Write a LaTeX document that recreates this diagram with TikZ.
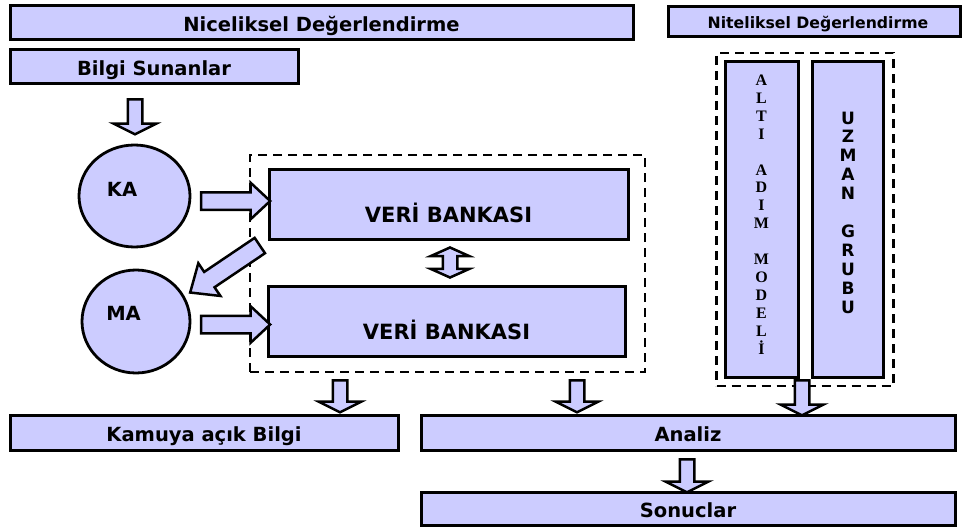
\documentclass[tikz,border=0pt]{standalone}
\usepackage{fontspec}
\setsansfont{DejaVu Sans}
\newfontfamily\colserif{Liberation Serif}
\usetikzlibrary{shapes.geometric}
\usetikzlibrary{shapes.arrows}
\definecolor{boxfill}{HTML}{CCCCFF}

\begin{document}
\begin{tikzpicture}[x = 1pt, y = -1pt, font=\sffamily\bfseries]
	\tikzstyle{boxStyle}=[shape = rectangle, draw, fill = boxfill, line width = 3pt, inner sep = 0pt]
	\tikzstyle{groupStyle}=[shape = rectangle, draw, line width = 2.7pt, dash pattern = on 9pt off 6pt, inner sep = 0pt]
	\tikzstyle{circStyle}=[shape = ellipse, draw, fill = boxfill, line width = 2.8pt, minimum width = 110pt, minimum height = 103pt, inner sep = 0pt]
	\tikzstyle{arrowStyle}=[shape = single arrow, draw, fill = boxfill, line width = 2.5pt, inner sep = 0pt, single arrow head indent = 0pt]
	\tikzstyle{downArrow}=[arrowStyle, rotate = -90, inner ysep = 6pt, single arrow head extend = 14pt, single arrow tip angle = 127]
	\tikzstyle{sideArrow}=[arrowStyle, inner ysep = 7.5pt, minimum height = 69pt, single arrow head extend = 9.5pt, single arrow tip angle = 86]
	\tikzstyle{bigFont}=[font = \sffamily\bfseries\fontsize{19.5}{22}\selectfont]
	\tikzstyle{boxText}=[bigFont, text height = 18pt, text depth = 0pt]
	\tikzstyle{bankFont}=[font = \sffamily\bfseries\fontsize{21}{24}\selectfont]
	\useasboundingbox (0,0) rectangle (964,527);
	% dashed groups
	\node[groupStyle, minimum width = 395pt, minimum height = 217pt] (g0) at (447.5,263.5) {};
	\node[groupStyle, minimum width = 177pt, minimum height = 333pt] (g1) at (805,219.5) {};
	% boxes
	\node[boxStyle, boxText, minimum width = 623pt, minimum height = 34pt] (b0) at (321.5,23) {Niceliksel Değerlendirme};
	\node[boxStyle, font = \sffamily\bfseries\fontsize{15.7}{18}\selectfont, text height = 13pt, text depth = 0pt, minimum width = 292pt, minimum height = 30pt] (b1) at (814,22) {\hspace*{8pt}Niteliksel Değerlendirme};
	\node[boxStyle, boxText, minimum width = 288pt, minimum height = 34pt] (b2) at (154,67) {Bilgi Sunanlar};
	\node[boxStyle, minimum width = 359pt, minimum height = 70pt, label = {[bankFont, yshift = -9pt]center:VERİ BANKASI}] (b3) at (448.5,204) {};
	\node[boxStyle, minimum width = 357pt, minimum height = 70pt, label = {[bankFont, yshift = -9pt]center:VERİ BANKASI}] (b4) at (446.5,321) {};
	\node[boxStyle, boxText, minimum width = 388pt, minimum height = 35pt] (b5) at (204,432.5) {Kamuya açık Bilgi};
	\node[boxStyle, boxText, minimum width = 534pt, minimum height = 35pt] (b6) at (688,432.5) {Analiz};
	\node[boxStyle, boxText, minimum width = 534pt, minimum height = 33pt] (b7) at (688,508.5) {Sonuclar};
	\node[boxStyle, minimum width = 73pt, minimum height = 315pt] (b8) at (761.5,219.5) {};
	\node[boxStyle, minimum width = 71pt, minimum height = 315pt] (b9) at (848,219.5) {};
	\node[align = center, font = \colserif\bfseries\fontsize{16}{17.9}\selectfont] (t8) at (b8.center) [yshift = 5pt]
		{A\\L\\T\\I\\[17.9pt]A\\D\\I\\M\\[17.9pt]M\\O\\D\\E\\L\\İ};
	\node[align = center, font = \sffamily\bfseries\fontsize{17}{18.9}\selectfont] (t9) at (b9.center) [yshift = 7pt]
		{U\\Z\\M\\A\\N\\[18.9pt]G\\R\\U\\B\\U};
	% circles
	\node[circStyle, minimum width = 111pt, minimum height = 102pt, label = {[bigFont, xshift = -12.5pt, yshift = 7pt]center:KA}] (c0) at (134.5,196) {};
	\node[circStyle, minimum width = 108pt, minimum height = 103pt, label = {[bigFont, xshift = -12.5pt, yshift = 8pt]center:MA}] (c1) at (136,321.5) {};
	% block arrows
	\node[downArrow, minimum height = 35pt] (a0) at (135,115) {};
	\node[sideArrow] (a1) at (231,201) {};
	\node[arrowStyle, rotate = 214, inner ysep = 8pt, minimum height = 84pt, single arrow head extend = 10.5pt, single arrow tip angle = 81] (a2) at (229.5,266) {};
	\node[shape = double arrow, draw, fill = boxfill, line width = 2.5pt, inner sep = 0pt, rotate = 90, inner ysep = 6pt, minimum height = 30pt, double arrow head extend = 12pt, double arrow tip angle = 132, double arrow head indent = 0pt] (a3) at (450,262.5) {};
	\node[sideArrow] (a4) at (231,324.5) {};
	\node[downArrow, minimum height = 32pt] (a5) at (340,394.5) {};
	\node[downArrow, minimum height = 32pt] (a6) at (577,394.5) {};
	\node[downArrow, minimum height = 35pt] (a7) at (802,396) {};
	\node[downArrow, minimum height = 33pt] (a8) at (687,474) {};
\end{tikzpicture}
\end{document}
